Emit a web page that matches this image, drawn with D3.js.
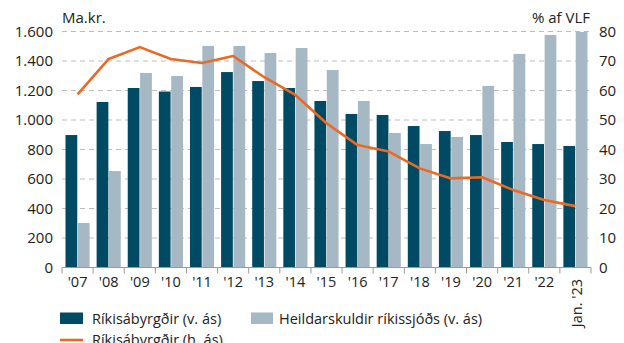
<!DOCTYPE html>
<html>
<head>
<meta charset="utf-8">
<script src="https://cdn.jsdelivr.net/npm/d3@7"></script>
<style>
  html, body { margin: 0; padding: 0; background: #fff; }
  svg { display: block; font-family: "Open Sans", "Noto Sans", sans-serif; }
</style>
</head>
<body>
<svg id="chart" width="624" height="343"></svg>
<script>
// Years on the x axis
const categories = ["'07","'08","'09","'10","'11","'12","'13","'14","'15","'16","'17","'18","'19","'20","'21","'22","Jan. '23"];
// Ríkisábyrgðir, billions ISK (left axis)
const guarantees = [898, 1122, 1217, 1193, 1224, 1325, 1264, 1217, 1129, 1041, 1034, 959, 925, 898, 851, 837, 824];
// Heildarskuldir ríkissjóðs, billions ISK (left axis)
const totalDebt = [302, 654, 1319, 1298, 1502, 1502, 1454, 1488, 1339, 1129, 912, 837, 885, 1231, 1448, 1576, 1597];
// Ríkisábyrgðir as % of GDP (right axis)
const guaranteesPct = [58.7, 70.7, 74.7, 70.7, 69.3, 71.7, 64.5, 58.5, 48.9, 41.5, 39.3, 33.6, 30.2, 30.6, 26.3, 22.9, 20.8];

const leftTicks = [0, 200, 400, 600, 800, 1000, 1200, 1400, 1600];
const rightTicks = [0, 10, 20, 30, 40, 50, 60, 70, 80];

(function draw() {
  const colDark = "#004a63", colLight = "#a5b8c4", colLine = "#ea6a25";

  const svg = d3.select("#chart");
  const plotL = 62, plotR = 591, plotT = 31.5, plotB = 267.5;

  const x = d3.scaleBand().domain(categories).range([plotL, plotR]).paddingInner(0).paddingOuter(0);
  const inner = d3.scaleBand().domain(["g", "d"]).range([3.5, x.bandwidth() - 3.5]).paddingInner(0.05);
  const yL = d3.scaleLinear().domain([0, 1600]).range([plotB, plotT]);
  const yR = d3.scaleLinear().domain([0, 80]).range([plotB, plotT]);

  // dashed gridlines
  svg.append("g")
    .selectAll("line")
    .data(leftTicks.filter(d => d > 0))
    .join("line")
    .attr("x1", plotL).attr("x2", plotR)
    .attr("y1", d => yL(d)).attr("y2", d => yL(d))
    .attr("stroke", "#bdbdbd").attr("stroke-width", 1.2)
    .attr("stroke-dasharray", "5,4");

  // bars
  const groups = svg.append("g").selectAll("g")
    .data(categories)
    .join("g")
    .attr("transform", d => `translate(${x(d)},0)`);

  groups.append("rect")
    .attr("x", inner("g"))
    .attr("width", inner.bandwidth())
    .attr("y", (d, i) => yL(guarantees[i]))
    .attr("height", (d, i) => plotB - yL(guarantees[i]))
    .attr("fill", colDark);

  groups.append("rect")
    .attr("x", inner("d"))
    .attr("width", inner.bandwidth())
    .attr("y", (d, i) => yL(totalDebt[i]))
    .attr("height", (d, i) => plotB - yL(totalDebt[i]))
    .attr("fill", colLight);

  // line on the right axis
  const line = d3.line()
    .x((d, i) => x(categories[i]) + x.bandwidth() / 2)
    .y(d => yR(d));
  svg.append("path")
    .datum(guaranteesPct)
    .attr("d", line)
    .attr("fill", "none")
    .attr("stroke", colLine)
    .attr("stroke-width", 2.6)
    .attr("stroke-linejoin", "round");

  // x axis baseline and ticks at band edges
  const xAxis = svg.append("g");
  xAxis.append("line")
    .attr("x1", plotL).attr("x2", plotR)
    .attr("y1", plotB).attr("y2", plotB)
    .attr("stroke", "#9a9a9a").attr("stroke-width", 1);
  xAxis.selectAll("line.tick")
    .data(categories.map(c => x(c)).concat([plotR]))
    .join("line")
    .attr("class", "tick")
    .attr("x1", d => d).attr("x2", d => d)
    .attr("y1", plotB).attr("y2", plotB + 6)
    .attr("stroke", "#9a9a9a").attr("stroke-width", 1);

  xAxis.selectAll("text.lbl")
    .data(categories.slice(0, -1))
    .join("text")
    .attr("class", "lbl")
    .attr("x", d => x(d) + x.bandwidth() / 2)
    .attr("y", 287)
    .attr("text-anchor", "middle")
    .attr("font-size", 14.5)
    .attr("fill", "#222")
    .text(d => d);

  const lastCat = categories[categories.length - 1];
  xAxis.append("text")
    .attr("transform", `translate(${x(lastCat) + x.bandwidth() / 2 + 6.5},279) rotate(-90)`)
    .attr("text-anchor", "end")
    .attr("font-size", 14.5)
    .attr("fill", "#222")
    .text(lastCat);

  // left axis labels
  svg.append("g").selectAll("text")
    .data(leftTicks)
    .join("text")
    .attr("x", 53)
    .attr("y", d => yL(d) + 5)
    .attr("text-anchor", "end")
    .attr("font-size", 15)
    .attr("fill", "#222")
    .text(d => d3.format(",")(d).replace(/,/g, "."));

  // right axis labels
  svg.append("g").selectAll("text")
    .data(rightTicks)
    .join("text")
    .attr("x", 599)
    .attr("y", d => yR(d) + 5)
    .attr("text-anchor", "start")
    .attr("font-size", 15)
    .attr("fill", "#222")
    .text(d => d);

  // axis titles
  svg.append("text").attr("x", 62).attr("y", 22.5)
    .attr("font-size", 15).attr("fill", "#222").text("Ma.kr.");
  svg.append("text").attr("x", 590).attr("y", 22.5).attr("text-anchor", "end")
    .attr("font-size", 15).attr("fill", "#222").text("% af VLF");

  // legend (last row runs past the lower edge)
  const legend = svg.append("g");
  legend.append("rect").attr("x", 60).attr("y", 312.5).attr("width", 23).attr("height", 11.5).attr("fill", colDark);
  legend.append("text").attr("x", 92).attr("y", 323.5).attr("font-size", 14.5).attr("fill", "#222").text("Ríkisábyrgðir (v. ás)");
  legend.append("rect").attr("x", 251).attr("y", 312.5).attr("width", 22).attr("height", 11.5).attr("fill", colLight);
  legend.append("text").attr("x", 279).attr("y", 323.5).attr("font-size", 14.5).attr("fill", "#222").text("Heildarskuldir ríkissjóðs (v. ás)");
  legend.append("line").attr("x1", 60).attr("x2", 83).attr("y1", 340).attr("y2", 340).attr("stroke", colLine).attr("stroke-width", 2.6);
  legend.append("text").attr("x", 92).attr("y", 345).attr("font-size", 14.5).attr("fill", "#222").text("Ríkisábyrgðir (h. ás)");
})();
</script>
</body>
</html>
